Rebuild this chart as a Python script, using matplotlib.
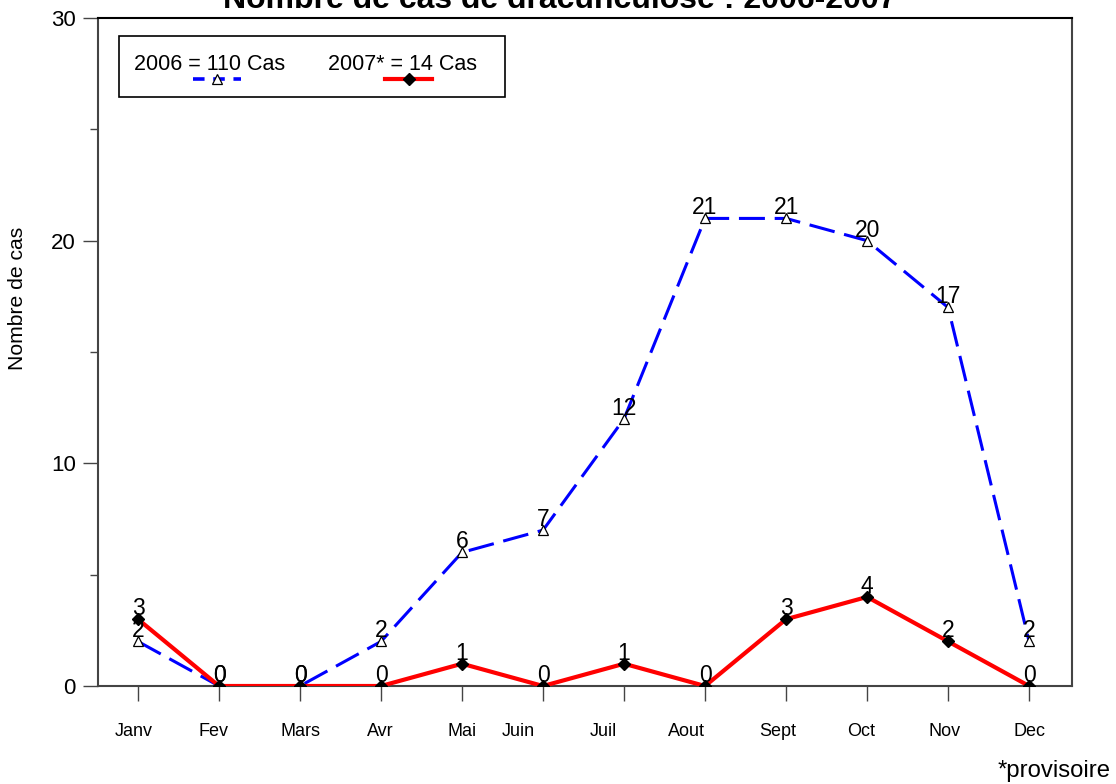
import matplotlib
matplotlib.use("AGG")
from matplotlib import pyplot as plt
from matplotlib.patches import Rectangle
from matplotlib.lines import Line2D
import numpy as np

plt.rcParams['font.family'] = ['Liberation Sans', 'DejaVu Sans']

mois = ['Janv', 'Fev', 'Mars', 'Avr', 'Mai', 'Juin', 'Juil', 'Aout', 'Sept', 'Oct', 'Nov', 'Dec']
cas_2006 = [2, 0, 0, 2, 6, 7, 12, 21, 21, 20, 17, 2]
cas_2007 = [3, 0, 0, 0, 1, 0, 1, 0, 3, 4, 2, 0]
# decalage des etiquettes de mois (en fraction de mois), comme sur l'original
decalage = [-0.05, -0.07, 0.01, -0.01, 0.0, -0.3, -0.26, -0.23, -0.1, -0.07, -0.04, 0.0]
y_ticks = [0, 10, 20, 30]
y_minor = [5, 15, 25]

x = np.arange(len(mois))
bleu = '#0000ff'
rouge = '#ff0000'
gris = '#444444'

fig = plt.figure(figsize=(11.16, 7.84), dpi=100)
ax = fig.add_axes([0.0878, 0.125, 0.8728, 0.852])

ax.plot(x, cas_2006, color=bleu, lw=2.2, linestyle=(0, (8.5, 3.2)),
        marker='^', markersize=7, markerfacecolor='white', markeredgecolor='black',
        markeredgewidth=0.9, zorder=3)
ax.plot(x, cas_2007, color=rouge, lw=3.0, marker='D', markersize=6.5,
        markerfacecolor='black', markeredgecolor='black', zorder=4)

# etiquettes de valeurs
for xi, v in zip(x, cas_2006):
    ax.annotate(str(v), (xi, v), xytext=(0, 3), textcoords='offset points',
                ha='center', va='baseline', fontsize=16.5, zorder=5)
for xi, v in zip(x, cas_2007):
    ax.annotate(str(v), (xi, v), xytext=(0, 3), textcoords='offset points',
                ha='center', va='baseline', fontsize=16.5, zorder=5)

ax.set_xlim(-0.494, 11.53)
ax.set_ylim(0, 30)

ax.xaxis.remove_overlapping_locs = False
ax.set_xticks(x)
ax.set_xticklabels([])
ax.set_xticks(x + np.array(decalage), minor=True)
ax.set_xticklabels(mois, minor=True)
ax.tick_params(axis='x', which='major', length=11, width=1, color=gris)
ax.tick_params(axis='x', which='minor', length=0, pad=27, labelsize=13)

ax.set_yticks(y_ticks)
ax.set_yticks(y_minor, minor=True)
ax.tick_params(axis='y', which='major', length=11, width=1, color=gris, pad=5, labelsize=16)
ax.tick_params(axis='y', which='minor', length=5.5, width=1, color=gris)

for s in ax.spines.values():
    s.set_color(gris)
    s.set_linewidth(1.5)
ax.spines['top'].set_color('black')

# legende manuelle : texte au-dessus de l'echantillon
ax.add_patch(Rectangle((0.0216, 0.882), 0.396, 0.091, transform=ax.transAxes,
                       fill=False, edgecolor='black', lw=1.2, zorder=6))
ax.text(0.037, 0.922, '2006 = 110 Cas', transform=ax.transAxes, fontsize=15.5,
        va='baseline', zorder=7)
ax.text(0.236, 0.922, '2007* = 14 Cas', transform=ax.transAxes, fontsize=15.5,
        va='baseline', zorder=7)
ax.add_line(Line2D([0.0975, 0.147], [0.909, 0.909], transform=ax.transAxes, color=bleu,
                   lw=2.6, linestyle=(0, (3.2, 2.4)), zorder=7))
ax.add_line(Line2D([0.122], [0.909], transform=ax.transAxes, marker='^', markersize=7,
                   markerfacecolor='white', markeredgecolor='black', markeredgewidth=0.9,
                   linestyle='none', zorder=8))
ax.add_line(Line2D([0.295, 0.343], [0.909, 0.909], transform=ax.transAxes, color=rouge,
                   lw=3.0, zorder=7))
ax.add_line(Line2D([0.319], [0.909], transform=ax.transAxes, marker='D', markersize=6.5,
                   color='black', linestyle='none', zorder=8))

fig.text(0.502, 0.99, 'Nombre de cas de dracunculose : 2006-2007', ha='center',
         va='baseline', fontsize=23, fontweight='bold')
fig.text(0.016, 0.619, 'Nombre de cas', rotation=90, ha='center', va='center', fontsize=15.2)
fig.text(0.995, 0.009, '*provisoire', ha='right', va='baseline', fontsize=17.2)

plt.savefig("out.png", dpi=100)
